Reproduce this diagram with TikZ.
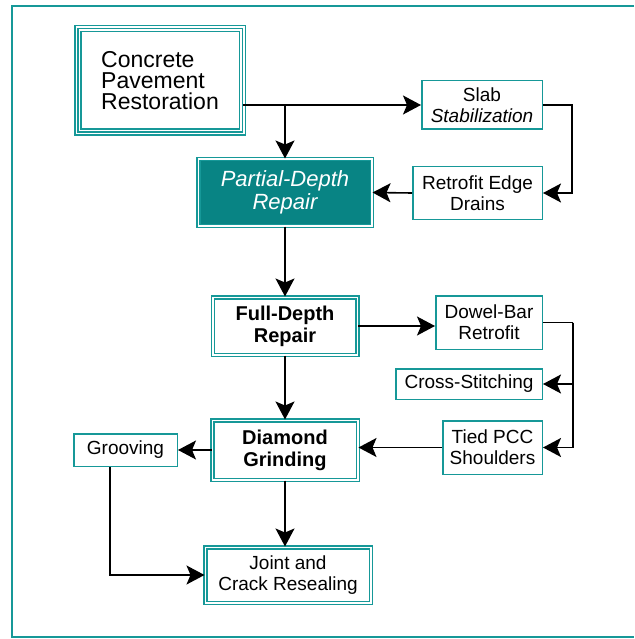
\documentclass[tikz,border=0pt]{standalone}
\usepackage{fontspec}
\setmainfont{Liberation Sans}
\usetikzlibrary{arrows.meta}
\definecolor{tealc}{RGB}{22,152,152}
\definecolor{tealf}{RGB}{8,132,132}
\tikzset{
  box/.style={draw=tealc, line width=1.5pt, inner sep=0pt, align=center,
    font=\fontsize{19}{21}\selectfont},
  dbox/.style={box, double=white, double distance=1.5pt,
    font=\fontsize{20}{22}\selectfont\bfseries},
  tbox/.style={box, preaction={draw=tealc, line width=7.5pt},
    preaction={draw=white, line width=4.5pt}, align=left,
    font=\fontsize{23}{21}\selectfont},
  fbox/.style={dbox, fill=tealf, text=white,
    font=\fontsize{22}{23}\selectfont\itshape},
  arr/.style={line width=1.6pt, -{Stealth[length=18pt,width=19pt,inset=4pt]}}
}
\begin{document}
\begin{tikzpicture}[x=1pt,y=-1pt]
\useasboundingbox (0,0) rectangle (634,639);
\draw[tealc, line width=2.5pt] (634,6) -| (12,637) -- (634,637);
% nodes
\node[tbox, minimum width=164.5pt, minimum height=103.5pt] (cpr) at (160,80.5)
  {Concrete\\Pavement\\Restoration};
\node[box, minimum width=120.5pt, minimum height=48.5pt] (slab) at (482,105)
  {Slab\\\textit{Stabilization}};
\node[fbox, minimum width=173.5pt, minimum height=66.5pt] (part) at (285,192.5)
  {Partial-Depth\\Repair};
\node[box, minimum width=129.5pt, minimum height=52.5pt] (edge) at (477.5,193)
  {Retrofit Edge\\Drains};
\node[dbox, minimum width=144.5pt, minimum height=57.5pt] (full) at (285,326)
  {Full-Depth\\Repair};
\node[box, minimum width=106.5pt, minimum height=53.5pt] (dowel) at (489,322.5)
  {Dowel-Bar\\Retrofit};
\node[box, minimum width=146.5pt, minimum height=30.5pt] (cross) at (469,384)
  {Cross-Stitching};
\node[box, minimum width=99.5pt, minimum height=53.5pt] (tied) at (492.5,447.5)
  {Tied PCC\\Shoulders};
\node[dbox, minimum width=145.5pt, minimum height=59.5pt] (diam) at (285,450)
  {Diamond\\Grinding};
\node[box, minimum width=103.5pt, minimum height=32.5pt] (groov) at (125.5,450)
  {Grooving};
\node[dbox, minimum width=165.5pt, minimum height=55.5pt,
  font=\fontsize{19}{21}\selectfont] (jcr) at (288,575)
  {Joint and\\Crack Resealing};
% connectors
\coordinate (j1) at (part.north |- slab.west);
\coordinate (j2) at ([xshift=30pt]dowel.east);
\draw[arr] (cpr.east |- slab.west) -- (slab.west);
\draw[arr] (j1) -- (part.north);
\draw[arr] (slab.east) -- ++(29,0) |- (edge.east);
\draw[arr] (edge.west) -- (part.east);
\draw[arr] (part.south) -- (full.north);
\draw[arr] (full.east) -- (dowel.west |- full.east);
\draw[line width=1.6pt] (dowel.east) -- (j2);
\draw[arr] (j2) |- (cross.east);
\draw[arr] (j2) |- (tied.east);
\draw[arr] (tied.west) -- (tied.west -| diam.east);
\draw[arr] (full.south) -- (diam.north);
\draw[arr] (diam.west) -- (groov.east);
\draw[arr] (diam.south) -- (diam.south |- jcr.north);
\draw[arr] ([xshift=-15.5pt]groov.south) |- (jcr.west);
\end{tikzpicture}
\end{document}
